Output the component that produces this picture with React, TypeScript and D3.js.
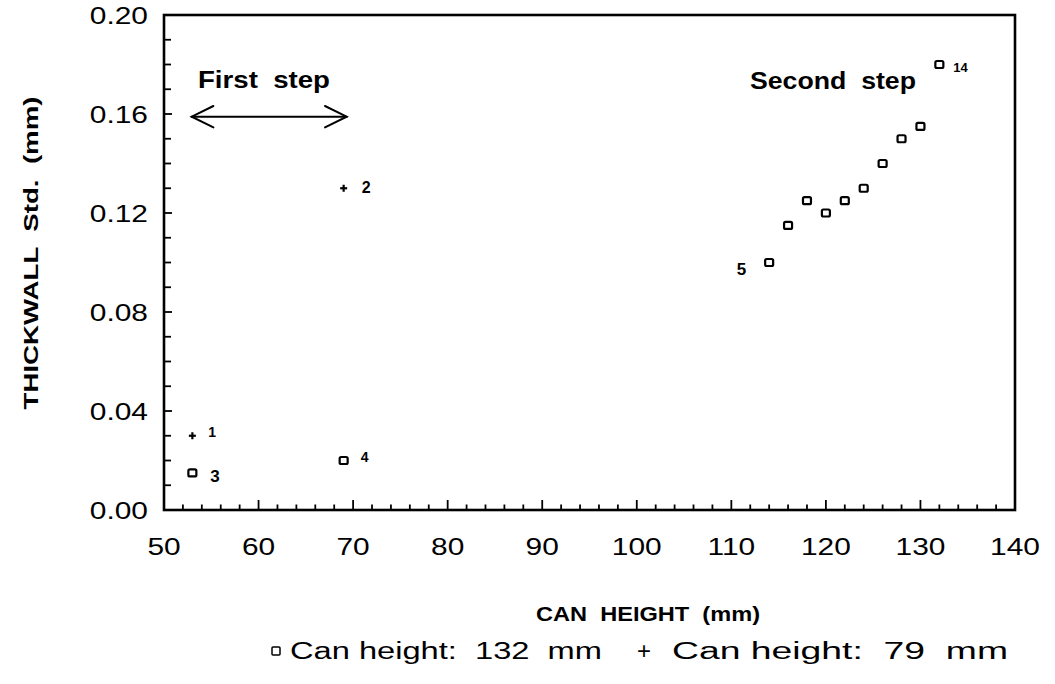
import React from "react";
import * as d3 from "d3";

// Thickwall standard deviation versus can height, two experiment steps.
const plusHeights = [53, 69];
const plusStd = [0.03, 0.13];
const plusIds = ["1", "2"];

const squareHeights = [53, 69, 114, 116, 118, 120, 122, 124, 126, 128, 130, 132];
const squareStd = [0.015, 0.02, 0.1, 0.115, 0.125, 0.12, 0.125, 0.13, 0.14, 0.15, 0.155, 0.18];
const squareIds = ["3", "4", "5", "", "", "", "", "", "", "", "", "14"];

const xTickLabels = [50, 60, 70, 80, 90, 100, 110, 120, 130, 140];
const yTickLabels = [0, 0.04, 0.08, 0.12, 0.16, 0.2];

const legendSquare = "Can height:  132  mm";
const legendPlus = "Can height:  79  mm";

const W = 1055;
const H = 684;
const left = 164;
const right = 1015;
const top = 15;
const bottom = 510;

const FONT = "'Liberation Sans', Arial, sans-serif";

// Offsets and sizes of the point number labels.
const idStyle: Record<string, { dx: number; dy: number; size: number; anchor: string }> = {
  "1": { dx: 16, dy: 1, size: 14, anchor: "start" },
  "2": { dx: 18, dy: 5, size: 16, anchor: "start" },
  "3": { dx: 18, dy: 9, size: 17, anchor: "start" },
  "4": { dx: 17, dy: 1, size: 14, anchor: "start" },
  "5": { dx: -23, dy: 12, size: 17, anchor: "end" },
  "14": { dx: 14, dy: 7, size: 13, anchor: "start" },
};

function WideText({ x, y, sx = 1.3, size = 23, anchor = "start", weight = "normal", children }: any) {
  return (
    <text
      transform={`translate(${x},${y}) scale(${sx},1)`}
      textAnchor={anchor}
      fontFamily={FONT}
      fontSize={size}
      fontWeight={weight}
      fill="#000"
    >
      {children}
    </text>
  );
}

function FitText({ x, y, len, size, weight = "normal", anchor = "start", transform, children }: any) {
  return (
    <text
      x={x}
      y={y}
      transform={transform}
      textAnchor={anchor}
      fontFamily={FONT}
      fontSize={size}
      fontWeight={weight}
      textLength={len}
      lengthAdjust="spacingAndGlyphs"
      style={{ whiteSpace: "pre" }}
      fill="#000"
    >
      {children}
    </text>
  );
}

export default function App() {
  const x = d3.scaleLinear().domain([50, 140]).range([left, right]);
  const y = d3.scaleLinear().domain([0, 0.2]).range([bottom, top]);

  const xMinor = d3.range(50, 141, 2);
  const yMinor = d3.range(0, 0.2001, 0.01);

  const arrowY = 116.7;
  const ax0 = 191.7;
  const ax1 = 346.7;

  return (
    <svg
      width={W}
      height={H}
      style={{ position: "absolute", left: 0, top: 0, background: "#fff" }}
    >
      <rect x={0} y={0} width={W} height={H} fill="#fff" />

      {/* frame */}
      <rect
        x={left}
        y={top}
        width={right - left}
        height={bottom - top}
        fill="none"
        stroke="#000"
        strokeWidth={2.6}
      />

      {/* x ticks along the bottom edge */}
      {xMinor.map((v) => {
        const major = Math.round(v) % 10 === 0;
        return (
          <line
            key={`xt${v}`}
            x1={x(v)}
            x2={x(v)}
            y1={bottom}
            y2={bottom - (major ? 10 : 5.5)}
            stroke="#000"
            strokeWidth={1.8}
          />
        );
      })}

      {/* y ticks along the left edge */}
      {yMinor.map((v, i) => (
        <line
          key={`yt${i}`}
          x1={left}
          x2={left + (i % 4 === 0 ? 8 : 7)}
          y1={y(v)}
          y2={y(v)}
          stroke="#000"
          strokeWidth={1.8}
        />
      ))}

      {/* x tick labels */}
      {xTickLabels.map((v) => (
        <WideText key={`xl${v}`} x={x(v)} y={555} anchor="middle">
          {String(v)}
        </WideText>
      ))}

      {/* y tick labels */}
      {yTickLabels.map((v) => (
        <WideText key={`yl${v}`} x={148} y={y(v) + 8.5} anchor="end">
          {v.toFixed(2)}
        </WideText>
      ))}

      {/* axis titles */}
      <FitText x={536} y={621} len={224} size={21} weight="bold">
        {"CAN  HEIGHT  (mm)"}
      </FitText>
      <FitText x={0} y={0} len={313} size={21} weight="bold" anchor="middle" transform="translate(38,253) rotate(-90)">
        {"THICKWALL  Std.  (mm)"}
      </FitText>

      {/* step annotations */}
      <FitText x={198} y={88} len={132} size={23} weight="bold">
        {"First  step"}
      </FitText>
      <FitText x={750} y={89} len={166} size={23} weight="bold">
        {"Second  step"}
      </FitText>
      <g stroke="#000" strokeWidth={2} fill="none" strokeLinecap="round">
        <line x1={ax0} x2={ax1} y1={arrowY} y2={arrowY} />
        <polyline points={`${ax0 + 21.7},${arrowY - 10.7} ${ax0},${arrowY} ${ax0 + 21.7},${arrowY + 10.7}`} />
        <polyline points={`${ax1 - 21.7},${arrowY - 10.7} ${ax1},${arrowY} ${ax1 - 21.7},${arrowY + 10.7}`} />
      </g>

      {/* square markers: 132 mm cans */}
      {squareHeights.map((h, i) => (
        <rect
          key={`sq${i}`}
          x={x(h) - 4}
          y={y(squareStd[i]) - 3.5}
          width={8}
          height={7}
          rx={1.5}
          fill="none"
          stroke="#000"
          strokeWidth={2.2}
        />
      ))}

      {/* plus markers: 79 mm cans */}
      {plusHeights.map((h, i) => (
        <g key={`pl${i}`} stroke="#000" strokeWidth={2.2}>
          <line x1={x(h) - 3.5} x2={x(h) + 3.5} y1={y(plusStd[i])} y2={y(plusStd[i])} />
          <line x1={x(h)} x2={x(h)} y1={y(plusStd[i]) - 3.5} y2={y(plusStd[i]) + 3.5} />
        </g>
      ))}

      {/* point numbers */}
      {[...plusIds.map((id, i) => ({ id, h: plusHeights[i], v: plusStd[i] })),
        ...squareIds.map((id, i) => ({ id, h: squareHeights[i], v: squareStd[i] }))]
        .filter((p) => p.id)
        .map((p) => {
          const s = idStyle[p.id];
          return (
            <text
              key={`id${p.id}`}
              x={x(p.h) + s.dx}
              y={y(p.v) + s.dy}
              textAnchor={s.anchor}
              fontFamily={FONT}
              fontSize={s.size}
              fontWeight="bold"
            >
              {p.id}
            </text>
          );
        })}

      {/* legend */}
      <rect x={272} y={647} width={8} height={8} rx={1} fill="none" stroke="#000" strokeWidth={1.5} />
      <FitText x={290} y={659} len={312} size={23}>
        {legendSquare}
      </FitText>
      <FitText x={644} y={659} len={14} size={23} anchor="middle">
        {"+"}
      </FitText>
      <FitText x={672} y={659} len={336} size={23}>
        {legendPlus}
      </FitText>
    </svg>
  );
}
